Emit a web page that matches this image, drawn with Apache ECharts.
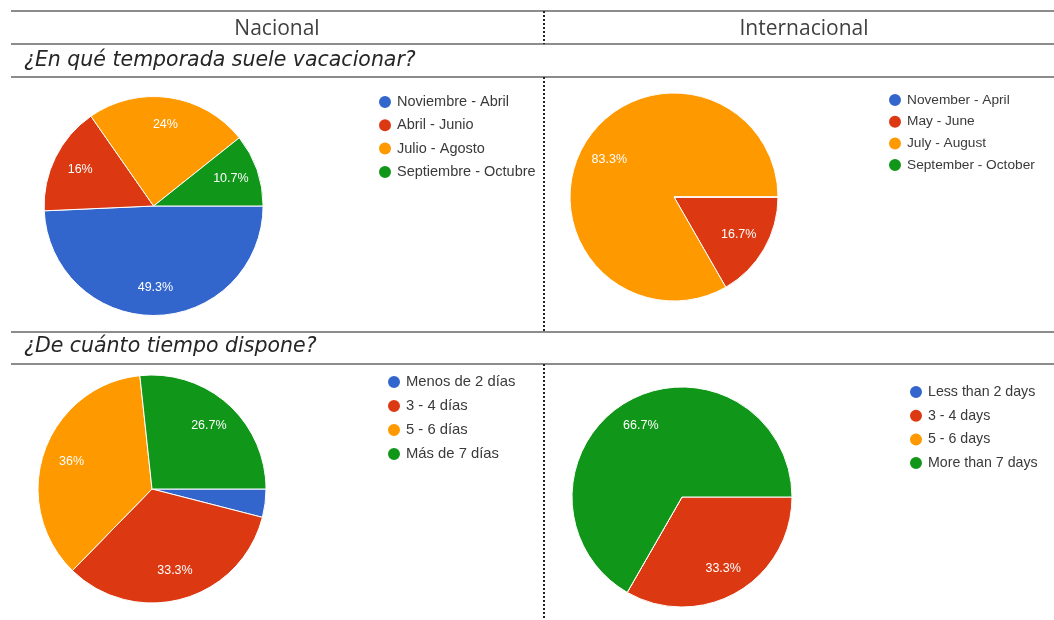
<!DOCTYPE html>
<html>
<head>
<meta charset="utf-8">
<script src="https://cdn.jsdelivr.net/npm/echarts@6/dist/echarts.min.js"></script>
<style>
  html, body { margin: 0; padding: 0; background: #ffffff; }
  #chart { width: 1054px; height: 620px; }
</style>
</head>
<body>
<div id="chart"></div>
<script>
// Column headers and survey questions
const columnHeaders = ['Nacional', 'Internacional'];
const questions = ['¿En qué temporada suele vacacionar?', '¿De cuánto tiempo dispone?'];

// Season of travel (percent of answers)
const nacTemporadaCats = ['Noviembre - Abril', 'Abril - Junio', 'Julio - Agosto', 'Septiembre - Octubre'];
const nacTemporadaPct = [49.3, 16, 24, 10.7];
const intTemporadaCats = ['November - April', 'May - June', 'July - August', 'September - October'];
const intTemporadaPct = [0, 16.7, 83.3, 0];

// Available time (percent of answers)
const nacTiempoCats = ['Menos de 2 días', '3 - 4 días', '5 - 6 días', 'Más de 7 días'];
const nacTiempoPct = [4, 33.3, 36, 26.7];
const intTiempoCats = ['Less than 2 days', '3 - 4 days', '5 - 6 days', 'More than 7 days'];
const intTiempoPct = [0, 33.3, 0, 66.7];

const sliceColors = ['#3366cc', '#dc3912', '#ff9900', '#109618'];

// Layout of each pie block
const blocks = [
  { cats: nacTemporadaCats, vals: nacTemporadaPct, center: [153.6, 206], r: 109.5, labelAt: 0.72,
    legend: { left: 377, top: 94, gap: 7.3, size: 14.5 } },
  { cats: intTemporadaCats, vals: intTemporadaPct, center: [674, 197], r: 104, labelAt: 0.69,
    legend: { left: 887, top: 92, gap: 5.7, size: 13.7 } },
  { cats: nacTiempoCats, vals: nacTiempoPct, center: [152, 489], r: 114, labelAt: 0.72,
    legend: { left: 386, top: 374, gap: 8, size: 14.8 } },
  { cats: intTiempoCats, vals: intTiempoPct, center: [682, 497], r: 110, labelAt: 0.72,
    legend: { left: 908, top: 384, gap: 7.7, size: 14.2 } }
];

const pctLabel = p => (p.value >= 5 ? p.value + '%' : '');

const series = [];
const legends = [];
blocks.forEach(b => {
  const data = b.cats.map((name, i) => ({ name: name, value: b.vals[i], itemStyle: { color: sliceColors[i] } }));
  // visible slices
  series.push({
    type: 'pie',
    center: b.center,
    radius: [0, b.r],
    startAngle: 0,
    clockwise: true,
    avoidLabelOverlap: false,
    silent: true,
    label: { show: false },
    labelLine: { show: false },
    itemStyle: { borderColor: '#ffffff', borderWidth: 1 },
    emphasis: { disabled: true },
    data: data
  });
  // percentage text, placed further out inside each slice
  series.push({
    type: 'pie',
    center: b.center,
    radius: [0, b.r * 2 * b.labelAt],
    startAngle: 0,
    clockwise: true,
    avoidLabelOverlap: false,
    silent: true,
    itemStyle: { color: 'rgba(0,0,0,0)', borderWidth: 0 },
    label: {
      show: true, position: 'inside', formatter: pctLabel,
      color: '#ffffff', fontFamily: 'Liberation Sans, Arial, sans-serif', fontSize: 12.5
    },
    labelLine: { show: false },
    emphasis: { disabled: true },
    data: b.cats.map((name, i) => ({ name: name, value: b.vals[i] }))
  });
  legends.push({
    data: b.cats,
    orient: 'vertical',
    left: b.legend.left,
    top: b.legend.top,
    padding: 0,
    icon: 'circle',
    itemWidth: 14,
    itemHeight: 14,
    itemGap: b.legend.gap,
    selectedMode: false,
    textStyle: {
      fontFamily: 'Liberation Sans, Arial, sans-serif',
      fontSize: b.legend.size,
      lineHeight: 16,
      color: '#3a3a3a'
    }
  });
});

// table rules
const ruleColor = '#8c8c8c';
const hRules = [11, 44, 77, 332, 364];
const vSegments = [[11, 44], [77, 332], [364, 620]];
const graphic = [];
hRules.forEach(y => graphic.push({
  type: 'line', silent: true,
  shape: { x1: 11, y1: y, x2: 1054, y2: y },
  style: { stroke: ruleColor, lineWidth: 2 }
}));
vSegments.forEach(s => graphic.push({
  type: 'line', silent: true,
  shape: { x1: 544, y1: s[0], x2: 544, y2: s[1] },
  style: { stroke: '#222222', lineWidth: 2, lineDash: [2, 2] }
}));
// header texts
[[277, columnHeaders[0]], [804, columnHeaders[1]]].forEach(h => graphic.push({
  type: 'text', silent: true, x: h[0], y: 29.5,
  style: {
    text: h[1], fill: '#404040', fontFamily: 'Open Sans', fontSize: 21,
    align: 'center', verticalAlign: 'middle', textAlign: 'center', textVerticalAlign: 'middle'
  }
}));
[[60.5, questions[0]], [347, questions[1]]].forEach(q => graphic.push({
  type: 'text', silent: true, x: 24, y: q[0],
  style: {
    text: q[1], fill: '#262626', fontFamily: 'DejaVu Sans', fontStyle: 'italic', fontSize: 20.5,
    align: 'left', verticalAlign: 'middle', textAlign: 'left', textVerticalAlign: 'middle'
  }
}));

const chart = echarts.init(document.getElementById('chart'), null, { renderer: 'canvas' });
chart.setOption({
  animation: false,
  backgroundColor: '#ffffff',
  legend: legends,
  series: series,
  graphic: graphic
});
</script>
</body>
</html>
